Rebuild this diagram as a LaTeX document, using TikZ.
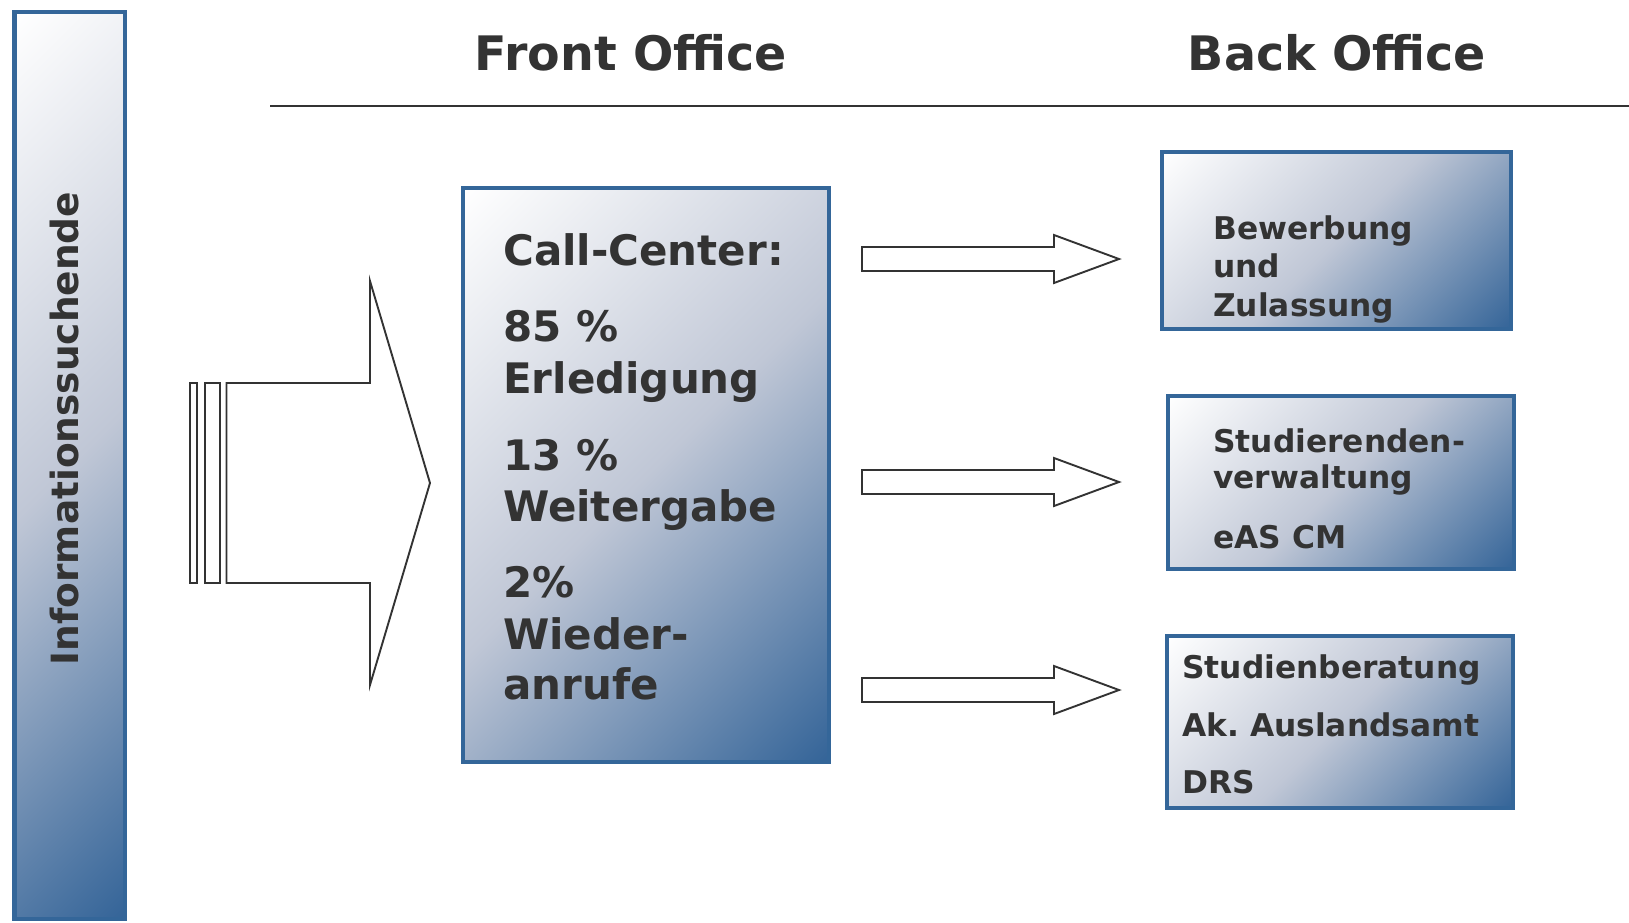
\documentclass[tikz,border=0pt]{standalone}
\usepackage{fontspec}
\setmainfont{DejaVu Sans}
\definecolor{bord}{RGB}{52,102,153}
\definecolor{gend}{RGB}{52,100,152}
\definecolor{gmid}{RGB}{192,199,214}
\definecolor{txt}{RGB}{51,51,51}
\pgfdeclareverticalshading{diagshade}{100bp}{color(0bp)=(gend); color(14.6bp)=(gend); color(50bp)=(gmid); color(85.4bp)=(white); color(100bp)=(white)}
\tikzset{
  gbox/.style={rectangle, draw=bord, line width=4.5pt, shading=diagshade, shading angle=45, inner sep=0pt},
  blk/.style={draw=txt, line width=1.9pt, fill=white, line join=miter},
  head/.style={font=\fontsize{47.5}{50}\selectfont\bfseries, text=txt, inner sep=0pt, anchor=base},
  cct/.style={font=\fontsize{42}{50}\selectfont\bfseries, text=txt, inner sep=0pt, anchor=base west},
  bot/.style={font=\fontsize{31.3}{36}\selectfont\bfseries, text=txt, inner sep=0pt, anchor=base west}
}
\begin{document}
\begin{tikzpicture}[x=1pt,y=-1pt]
\useasboundingbox (0,0) rectangle (1629,922);
% left bar
\node[gbox, minimum width=110.5pt, minimum height=907pt] (bar) at (69.75,465.5) {};
\node[rotate=90, font=\fontsize{37.5}{40}\selectfont\bfseries, text=txt, inner sep=0pt] (info) at (64.5,428.5) {Informationssuchende};
% headings
\node[head] (fo) at (631,70) {Front Office};
\node[head] (bo) at (1337,70) {Back Office};
\coordinate (hl1) at (270,106);
\coordinate (hl2) at (1629,106);
\draw[draw=txt, line width=2pt] (hl1) -- (hl2);
% big arrow
\draw[blk] (190,383) rectangle (197,583);
\draw[blk] (205,383) rectangle (220,583);
\draw[blk] (226.5,383) -- (370,383) -- (370,281) -- (430,483) -- (370,685) -- (370,583) -- (226.5,583) -- cycle;
% call center
\node[gbox, minimum width=366pt, minimum height=574pt] (cc) at (646,475) {};
\node[cct] (cc1) at (503,265) {Call-Center:};
\node[cct] (cc2) at (503,341) {85 \%};
\node[cct] (cc3) at (503,393) {Erledigung};
\node[cct] (cc4) at (503,470) {13 \%};
\node[cct] (cc5) at (503,521) {Weitergabe};
\node[cct] (cc6) at (503,597) {2\%};
\node[cct] (cc7) at (503,649) {Wieder-};
\node[cct] (cc8) at (503,699) {anrufe};
% small arrows
\draw[blk] (862,247) -- (1054,247) -- (1054,235) -- (1119,259) -- (1054,283) -- (1054,271) -- (862,271) -- cycle;
\draw[blk] (862,470) -- (1054,470) -- (1054,458) -- (1119,482) -- (1054,506) -- (1054,494) -- (862,494) -- cycle;
\draw[blk] (862,678) -- (1054,678) -- (1054,666) -- (1119,690) -- (1054,714) -- (1054,702) -- (862,702) -- cycle;
% back office boxes
\node[gbox, minimum width=349pt, minimum height=177pt] (b1) at (1336.5,240.5) {};
\node[bot] (b1a) at (1213,239) {Bewerbung};
\node[bot] (b1b) at (1213,277) {und};
\node[bot] (b1c) at (1213,316) {Zulassung};
\node[gbox, minimum width=346pt, minimum height=173pt] (b2) at (1341,482.5) {};
\node[bot] (b2a) at (1213,452) {Studierenden-};
\node[bot] (b2b) at (1213,488) {verwaltung};
\node[bot] (b2c) at (1213,548) {eAS CM};
\node[gbox, minimum width=346pt, minimum height=172pt] (b3) at (1340,722) {};
\node[bot] (b3a) at (1182,678) {Studienberatung};
\node[bot] (b3b) at (1182,736) {Ak.\ Auslandsamt};
\node[bot] (b3c) at (1182,793) {DRS};
\end{tikzpicture}
\end{document}
